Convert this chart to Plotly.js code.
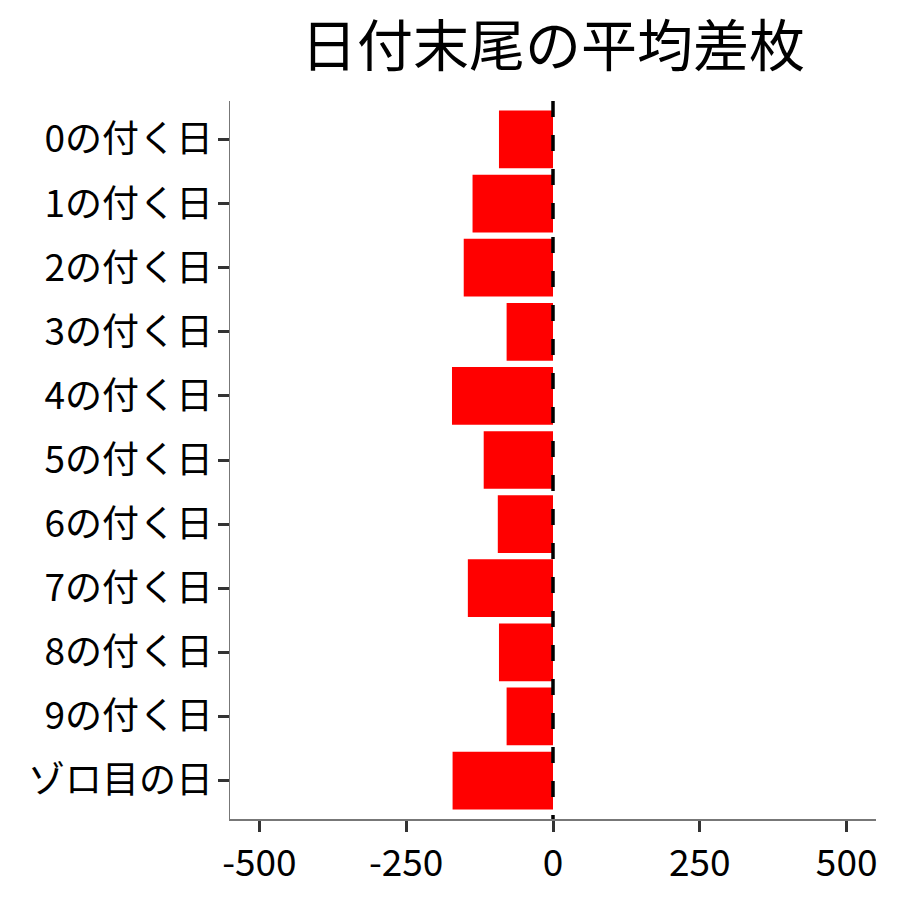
<!DOCTYPE html>
<html>
<head>
<meta charset="utf-8">
<script src="https://cdn.plot.ly/plotly-3.0.1.min.js"></script>
<style>
  html, body { margin: 0; padding: 0; background: #fff; }
  #plot { width: 900px; height: 900px; }
</style>
</head>
<body>
<div id="plot"></div>
<script>
// categories, top to bottom
var days = ['0の付く日', '1の付く日', '2の付く日', '3の付く日', '4の付く日',
            '5の付く日', '6の付く日', '7の付く日', '8の付く日', '9の付く日', 'ゾロ目の日']
// average coin difference per day group
var avgDiff = [-92, -137, -152, -79, -172, -118, -94, -145, -92, -79, -171]
var xTicks = [-500, -250, 0, 250, 500]
var refLine = 0

var font = '"Noto Sans CJK JP", "Noto Sans", sans-serif'

var bars = {
  type: 'bar',
  orientation: 'h',
  x: avgDiff,
  y: days,
  width: 0.9,
  marker: { color: '#ff0000', line: { width: 0 } },
  hoverinfo: 'x+y'
}

var layout = {
  width: 900,
  height: 900,
  margin: { l: 230, r: 23.5, t: 100.5, b: 80.5 },
  paper_bgcolor: '#ffffff',
  plot_bgcolor: '#ffffff',
  showlegend: false,
  font: { family: font, color: '#000000', size: 37 },
  title: {
    text: '日付末尾の平均差枚',
    font: { family: font, size: 56, color: '#000000' },
    x: 0.5, xref: 'paper', xanchor: 'center',
    y: 0.949, yref: 'container', yanchor: 'middle'
  },
  xaxis: {
    range: [-550, 550],
    tickmode: 'array',
    tickvals: xTicks,
    ticktext: xTicks.map(String),
    ticks: 'outside',
    ticklen: 11,
    tickwidth: 3,
    tickcolor: '#333333',
    showline: true,
    linecolor: '#777777',
    linewidth: 1.5,
    showgrid: false,
    zeroline: false,
    tickfont: { family: font, size: 37, color: '#000000' }
  },
  yaxis: {
    type: 'category',
    categoryorder: 'array',
    categoryarray: days,
    range: [days.length - 0.4, -0.6],
    ticks: 'outside',
    ticklen: 11,
    tickwidth: 3,
    tickcolor: '#333333',
    ticklabelstandoff: -3,
    showline: true,
    linecolor: '#777777',
    linewidth: 1.5,
    showgrid: false,
    zeroline: false,
    tickfont: { family: font, size: 37, color: '#000000' }
  },
  shapes: [{
    type: 'line',
    xref: 'x', yref: 'paper',
    x0: refLine, x1: refLine, y0: 1, y1: 0,
    layer: 'above',
    line: { color: '#000000', width: 3.5, dash: '16px,18px' }
  }]
}

Plotly.newPlot('plot', [bars], layout, { staticPlot: true })
</script>
</body>
</html>
